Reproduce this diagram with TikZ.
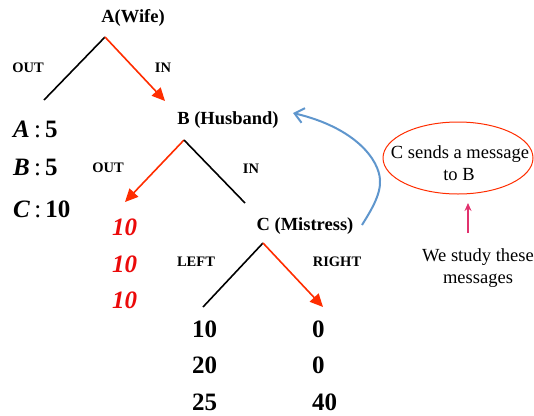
\documentclass[tikz,border=0pt]{standalone}
\usepackage{fontspec}
\setmainfont{Liberation Serif}
\usetikzlibrary{arrows.meta}
\definecolor{tred}{RGB}{255,45,0}
\definecolor{nred}{RGB}{235,10,10}
\definecolor{tpink}{RGB}{225,50,110}
\definecolor{tblue}{RGB}{95,150,205}
\newcommand{\fs}[1]{\fontsize{#1}{#1}\selectfont}
\begin{document}
\begin{tikzpicture}[x=1pt,y=-1pt,
  lbl/.style={anchor=base,inner sep=0pt,font=\fs{14.5}\bfseries},
  who/.style={anchor=base,inner sep=0pt,font=\fs{18.5}\bfseries},
  big/.style={anchor=base west,inner sep=0pt,font=\fs{25}\bfseries},
  redn/.style={anchor=base west,inner sep=0pt,font=\fs{25}\bfseries\itshape,text=nred},
  note/.style={anchor=base,inner sep=0pt,font=\fs{18.5}},
  edge/.style={line width=1.6pt},
  redarrow/.style={line width=1.6pt,draw=tred,-{Triangle[length=13pt,width=12pt]}}]
\useasboundingbox (0,0) rectangle (534,415);
% tree A
\node[who] (A) at (133,22) {A(Wife)};
\coordinate (av) at (105,37);
\coordinate (al) at (44,100);
\coordinate (ar) at (165,101);
\draw[edge] (av) -- (al);
\draw[redarrow] (av) -- (ar);
\node[lbl] (aout) at (28,72) {OUT};
\node[lbl] (ain) at (163,72) {IN};
% payoffs for OUT
\node[big] (pa) at (13,137) {\textit{A}\,{\mdseries:}\,5};
\node[big] (pb) at (13,175) {\textit{B}\,{\mdseries:}\,5};
\node[big] (pc) at (13,217) {\textit{C}\,{\mdseries:}\,10};
% tree B
\node[who] (B) at (228,124) {B (Husband)};
\coordinate (bv) at (184,140);
\coordinate (bl) at (125,202);
\coordinate (br) at (245,203);
\draw[redarrow] (bv) -- (bl);
\draw[edge] (bv) -- (br);
\node[lbl] (bout) at (108,172) {OUT};
\node[lbl] (bin) at (251,173) {IN};
\node[redn] (r1) at (112,235) {10};
\node[redn] (r2) at (112,272) {10};
\node[redn] (r3) at (112,308) {10};
% tree C
\node[who] (C) at (305,230) {C (Mistress)};
\coordinate (cv) at (263,243);
\coordinate (cl) at (203,307);
\coordinate (cr) at (323,307);
\draw[edge] (cv) -- (cl);
\draw[redarrow] (cv) -- (cr);
\node[lbl] (cleft) at (196,266) {LEFT};
\node[lbl] (cright) at (337,266) {RIGHT};
\node[big] (l1) at (192,337) {10};
\node[big] (l2) at (192,373) {20};
\node[big] (l3) at (192,410) {25};
\node[big] (q1) at (312,337) {0};
\node[big] (q2) at (312,373) {0};
\node[big] (q3) at (312,410) {40};
% message
\draw[tred,line width=1pt] (458,158) ellipse [x radius=75, y radius=36];
\node[note] (m1) at (460,158) {C sends a message};
\node[note] (m2) at (459,180) {to B};
\coordinate (ps) at (468,233);
\coordinate (pe) at (468,203);
\draw[tpink,line width=1.5pt,-{Stealth[length=8pt,width=7pt]}] (ps) -- (pe);
\node[note] (w1) at (478,261) {We study these};
\node[note] (w2) at (478,283) {messages};
% blue curve
\coordinate (bs) at (362,225);
\coordinate (bm) at (380,180);
\coordinate (be) at (293,113);
\draw[tblue,line width=2pt,-{Straight Barb[length=9pt,width=15pt]}] (bs) .. controls (370,212) and (381,195) .. (bm) .. controls (379,160) and (356,128) .. (be);
\end{tikzpicture}
\end{document}
